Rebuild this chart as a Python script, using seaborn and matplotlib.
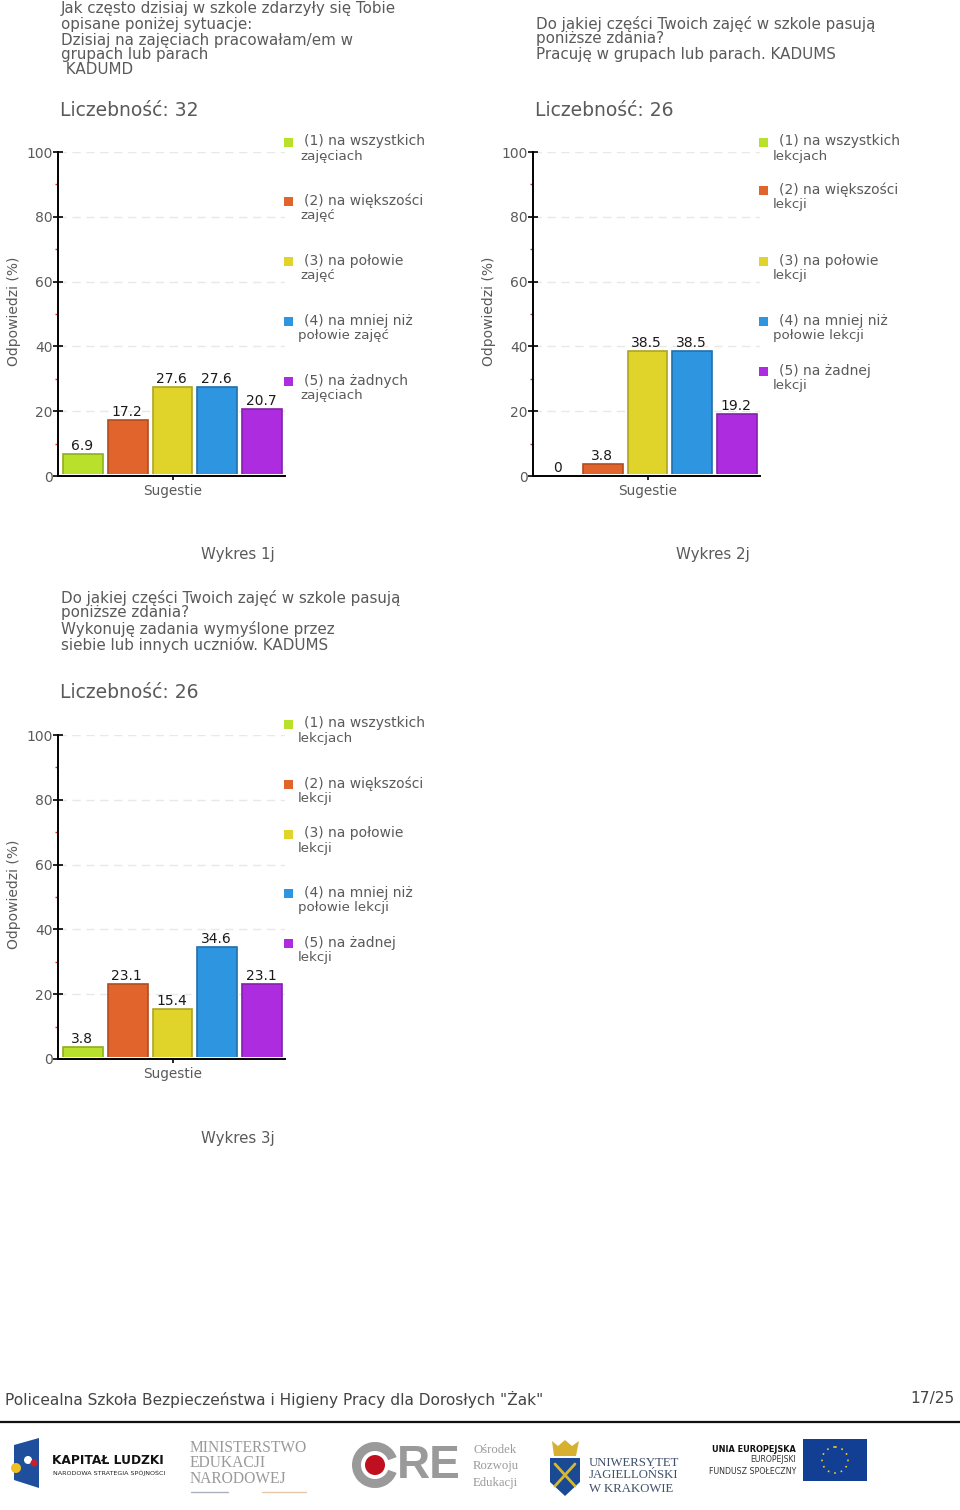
import matplotlib
matplotlib.use("Agg")
import matplotlib.pyplot as plt
from matplotlib.patches import Rectangle, Circle, Polygon, Wedge
import seaborn as sns
import pandas as pd

W, H = 960, 1510

values_1 = [6.9, 17.2, 27.6, 27.6, 20.7]
values_2 = [0, 3.8, 38.5, 38.5, 19.2]
values_3 = [3.8, 23.1, 15.4, 34.6, 23.1]
options = ["(1)", "(2)", "(3)", "(4)", "(5)"]
palette = ["#b9e02a", "#e0642c", "#e0d42a", "#2e96e0", "#ae2ce0"]
edges = ["#8fae20", "#b04c20", "#aea420", "#1f70aa", "#8420aa"]
yticks = [0, 20, 40, 60, 80, 100]
minor_yticks = [10, 30, 50, 70, 90]

titles_1 = ["Jak często dzisiaj w szkole zdarzyły się Tobie", "opisane poniżej sytuacje:",
            "Dzisiaj na zajęciach pracowałam/em w", "grupach lub parach", " KADUMD"]
titles_2 = ["Do jakiej części Twoich zajęć w szkole pasują", "poniższe zdania?",
            "Pracuję w grupach lub parach. KADUMS"]
titles_3 = ["Do jakiej części Twoich zajęć w szkole pasują", "poniższe zdania?",
            "Wykonuję zadania wymyślone przez", "siebie lub innych uczniów. KADUMS"]
legend_1 = [("(1) na wszystkich", "zajęciach"), ("(2) na większości", "zajęć"), ("(3) na połowie", "zajęć"),
            ("(4) na mniej niż", "połowie zajęć"), ("(5) na żadnych", "zajęciach")]
legend_2 = [("(1) na wszystkich", "lekcjach"), ("(2) na większości", "lekcji"), ("(3) na połowie", "lekcji"),
            ("(4) na mniej niż", "połowie lekcji"), ("(5) na żadnej", "lekcji")]
legend_3 = legend_2

sns.set_theme(style="white")
plt.rcParams["font.family"] = ["DejaVu Sans"]
fig = plt.figure(figsize=(W / 100, H / 100), dpi=100)
bg = fig.add_axes([0, 0, 1, 1], zorder=0)
bg.set_xlim(0, W)
bg.set_ylim(H, 0)
bg.axis("off")
GRAY = "#5a5a5a"


def txt(x, y, s, size=9.6, color=GRAY, **kw):
    kw.setdefault("va", "center")
    return bg.text(x, y, s, fontsize=size, color=color, **kw)


def chart(x0, y0, vals, title_lines, title_ys, n, legend, leg_y, second_dx, caption):
    """x0 = pixel of y axis, y0 = pixel of value 0."""
    for s, y in zip(title_lines, title_ys):
        txt(x0 + 3, y, s, size=10.9)
    txt(x0 + 2, y0 - 366, f"Liczebność: {n}", size=13.5)

    ax = fig.add_axes([x0 / W, 1 - y0 / H, 227 / W, 324 / H], zorder=2)
    ax.patch.set_alpha(0)
    df = pd.DataFrame({"opcja": options, "wartosc": vals})
    sns.barplot(data=df, x="opcja", y="wartosc", hue="opcja", palette=palette, dodge=False,
                width=0.885, saturation=1, legend=False, ax=ax, zorder=2)
    for p, e in zip(ax.patches, edges):
        p.set_edgecolor(e)
        p.set_linewidth(1.2)
    ax.axhspan(0, 0.65, color="white", zorder=3, lw=0)
    ax.set_xlim(-0.559, 4.514)
    ax.set_ylim(0, 100)
    ax.set_yticks(yticks)
    ax.set_yticks(minor_yticks, minor=True)
    ax.yaxis.grid(True, which="major", ls=(0, (6, 4)), color="#e8e8e8", lw=1)
    ax.set_axisbelow(True)
    ax.tick_params(axis="y", which="major", direction="inout", length=7, width=1.2, color="black",
                   labelsize=10, labelcolor=GRAY, pad=0.5, left=True)
    ax.tick_params(axis="y", which="minor", length=2, width=1, color="#d03030", left=True)
    ax.set_xticks([2])
    ax.set_xticklabels(["Sugestie"], fontsize=9.8, color=GRAY)
    ax.tick_params(axis="x", length=3, width=1.2, color="black", pad=3, bottom=True)
    ax.set_xlabel("")
    ax.set_ylabel("Odpowiedzi (%)", fontsize=10, color=GRAY)
    ax.yaxis.set_label_coords(-37 / 227, 0.509)
    for s in ["top", "right"]:
        ax.spines[s].set_visible(False)
    for s in ["left", "bottom"]:
        ax.spines[s].set_color("black")
        ax.spines[s].set_linewidth(1.4)
        ax.spines[s].set_zorder(5)
    for i, v in enumerate(vals):
        ax.annotate(f"{v:g}", (i, v), xytext=(-1, 1), textcoords="offset pixels", ha="center", va="bottom",
                    fontsize=10, color="#1a1a1a", zorder=6)

    lx = x0 + 226
    for (a, b), y, c, dx in zip(legend, leg_y, palette, second_dx):
        bg.add_patch(Rectangle((lx, y - 4), 9, 9, color=c, lw=0))
        txt(lx + 20, y - 0.5, a, size=10)
        txt(lx + 12 + dx, y + 14.5, b, size=9.6)
    txt(x0 + 180, y0 + 79, caption, size=10.8, ha="center")


chart(58, 476, values_1, titles_1, [8, 24, 40, 55, 70], 32, legend_1, [142, 201, 261, 321, 381],
      [4, 4, 4, 2, 4], "Wykres 1j")
chart(533, 476, values_2, titles_2, [24, 39, 55], 26, legend_2, [142, 190, 261, 321, 371],
      [2, 2, 2, 2, 2], "Wykres 2j")
chart(58, 1059, values_3, titles_3, [598, 613, 629, 645], 26, legend_3, [724, 784, 834, 893, 943],
      [2, 2, 2, 2, 2], "Wykres 3j")

# footer
txt(5, 1399, 'Policealna Szkoła Bezpieczeństwa i Higieny Pracy dla Dorosłych "Żak"', size=11.1, color="#444444")
txt(955, 1399, "17/25", size=11.1, color="#444444", ha="right")
bg.plot([0, 960], [1421.5, 1421.5], color="#111111", lw=1.6)

# Kapitał Ludzki
bg.add_patch(Polygon([(14, 1445), (39, 1438), (39, 1488), (14, 1480)], color="#1f4e9c", lw=0))
bg.add_patch(Circle((16, 1468), 5, color="#f0c020", lw=0))
bg.add_patch(Circle((28, 1460), 4, color="white", lw=0))
bg.add_patch(Circle((34, 1463), 3.5, color="#c8202c", lw=0))
txt(52, 1461, "KAPITAŁ LUDZKI", size=8.8, color="#111111", fontweight="bold")
txt(53, 1473, "NARODOWA STRATEGIA SPÓJNOŚCI", size=4.6, color="#222222")
# MEN
for s, y in zip(["MINISTERSTWO", "EDUKACJI", "NARODOWEJ"], [1448, 1463, 1479]):
    txt(190, y, s, size=11.2, color="#9a9a9a", family="Liberation Serif")
bg.plot([191, 228], [1492, 1492], color="#aab0bc", lw=1)
bg.plot([262, 306], [1492, 1492], color="#e8c8a8", lw=1)
# ORE
bg.add_patch(Wedge((375, 1465), 23, 20, 340, width=9, color="#9a9a9a", lw=0))
bg.add_patch(Circle((375, 1465), 10, color="#c01020", lw=0))
txt(397, 1466, "RE", size=33, color="#9a9a9a", family="Liberation Sans", fontweight="bold")
for s, y in zip(["Ośrodek", "Rozwoju", "Edukacji"], [1450, 1466, 1483]):
    txt(473, y, s, size=9.2, color="#9a9a9a", family="Liberation Serif")
# UJ
bg.add_patch(Polygon([(550, 1458), (580, 1458), (580, 1482), (565, 1496), (550, 1482)], color="#1a4a94", lw=0))
bg.plot([555, 575], [1464, 1486], color="#d8b830", lw=2)
bg.plot([575, 555], [1464, 1486], color="#d8b830", lw=2)
bg.add_patch(Polygon([(552, 1441), (558, 1446), (565, 1440), (572, 1446), (579, 1441), (576, 1456), (554, 1456)],
                     color="#d8b030", lw=0))
for s, y in zip(["UNIWERSYTET", "JAGIELLOŃSKI", "W KRAKOWIE"], [1463, 1475, 1489]):
    txt(589, y, s, size=9.2, color="#40506c", family="Liberation Serif")
# EU
txt(796, 1449, "UNIA EUROPEJSKA", size=5.9, color="#111111", ha="right", fontweight="bold")
txt(796, 1460, "EUROPEJSKI", size=5.6, color="#333333", ha="right")
txt(796, 1471, "FUNDUSZ SPOŁECZNY", size=5.7, color="#333333", ha="right")
bg.add_patch(Rectangle((803, 1439), 64, 42, color="#123f94", lw=0))
bg.add_patch(Circle((835, 1460), 13, fill=False, ec="#f0d020", lw=1.2, ls=(0, (1, 3))))

fig.savefig("out.png", dpi=100)
